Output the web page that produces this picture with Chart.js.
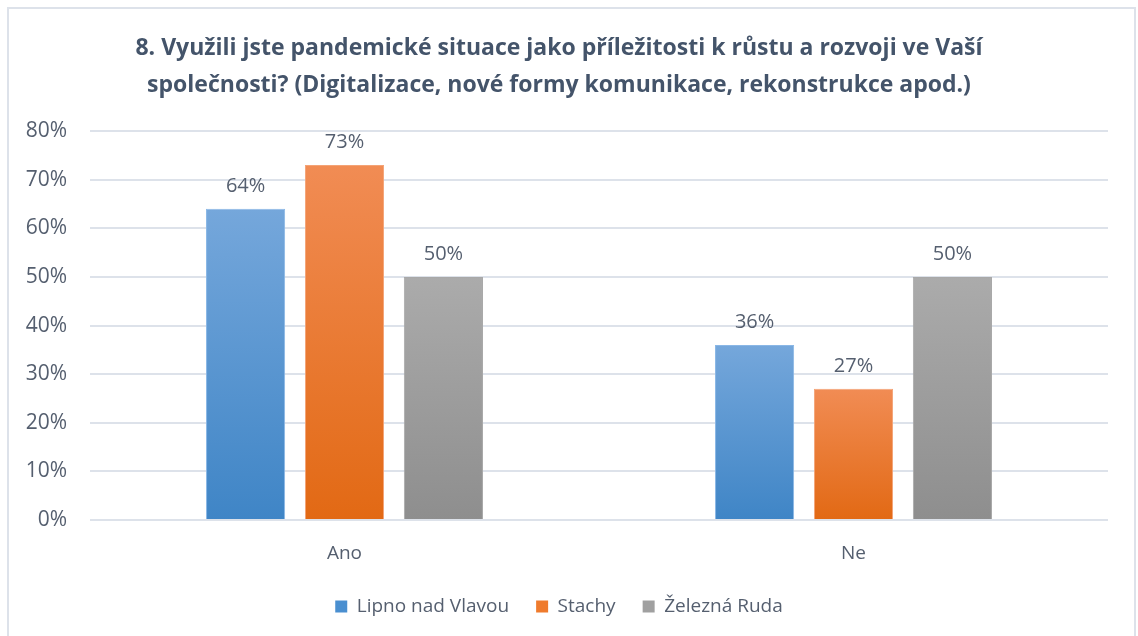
<!DOCTYPE html>
<html>
<head>
<meta charset="utf-8">
<script src="https://cdn.jsdelivr.net/npm/chart.js@4.4.0/dist/chart.umd.min.js"></script>
<style>
  html, body { margin: 0; padding: 0; background: #fff; overflow: hidden; }
  #frame {
    position: absolute; left: 7px; top: 7px; width: 1125px; height: 640px;
    border-left: 2px solid #dde2ea; border-top: 2px solid #dde2ea; border-right: 2px solid #dde2ea;
  }
  #wrap { position: absolute; left: 0; top: 0; width: 1138px; height: 636px; overflow: hidden; }
</style>
</head>
<body>
<div id="frame"></div>
<div id="wrap"><canvas id="chart" width="1138" height="642"></canvas></div>
<script>
const categories = ['Ano', 'Ne'];
const seriesNames = ['Lipno nad Vlavou', 'Stachy', 'Železná Ruda'];
const lipno = [64, 36];
const stachy = [73, 27];
const zeleznaRuda = [50, 50];
const yTicks = [0, 10, 20, 30, 40, 50, 60, 70, 80];

const titleLines = [
    '8. Využili jste pandemické situace jako příležitosti k růstu a rozvoji ve Vaší',
    'společnosti? (Digitalizace, nové formy komunikace, rekonstrukce apod.)'
];

// top / bottom gradient stops and legend colour per series
const palette = [
    { top: '#75a7db', bottom: '#3f85c6', solid: '#4a8fd0', edge: '#8ab7e6' },
    { top: '#f18c54', bottom: '#e26914', solid: '#ef7b2d', edge: '#f4a376' },
    { top: '#ababab', bottom: '#8e8e8e', solid: '#a0a0a0', edge: '#a8a8a8' }
];

const textColor = '#555f6f';
const fontFamily = '"Open Sans", sans-serif';

function barGradient(i) {
    return (context) => {
        const chart = context.chart;
        if (!chart.chartArea || context.raw === undefined) return palette[i].solid;
        const y = chart.scales.y;
        const top = y.getPixelForValue(context.raw);
        const bottom = y.getPixelForValue(0);
        const g = chart.ctx.createLinearGradient(0, top, 0, bottom);
        g.addColorStop(0, palette[i].top);
        g.addColorStop(1, palette[i].bottom);
        return g;
    };
}

const valueLabels = {
    id: 'valueLabels',
    afterDatasetsDraw(chart) {
        const ctx = chart.ctx;
        ctx.save();
        ctx.font = '20px ' + fontFamily;
        ctx.fillStyle = textColor;
        ctx.textAlign = 'center';
        ctx.textBaseline = 'alphabetic';
        chart.data.datasets.forEach((ds, di) => {
            chart.getDatasetMeta(di).data.forEach((bar, i) => {
                ctx.fillText(ds.data[i] + '%', bar.x, bar.y - 17);
            });
        });
        ctx.restore();
    }
};

const seriesData = [lipno, stachy, zeleznaRuda];

new Chart(document.getElementById('chart'), {
    type: 'bar',
    data: {
        labels: categories,
        datasets: seriesNames.map((name, i) => ({
            label: name,
            data: seriesData[i],
            backgroundColor: barGradient(i),
            borderColor: palette[i].edge,
            borderWidth: 1,
            categoryPercentage: 0.583,
            barPercentage: 0.8
        }))
    },
    options: {
        responsive: false,
        animation: false,
        devicePixelRatio: 1,
        layout: { padding: { left: 10, right: 30, top: 30, bottom: 16 } },
        plugins: {
            tooltip: { enabled: false },
            title: {
                display: true,
                text: titleLines,
                color: '#44546a',
                font: { family: fontFamily, size: 23, weight: 'bold', lineHeight: 1.61 },
                padding: { top: 0, bottom: 27 }
            },
            legend: {
                position: 'bottom',
                labels: {
                    color: textColor,
                    font: { family: fontFamily, size: 19 },
                    boxWidth: 12,
                    boxHeight: 12,
                    padding: 27,
                    generateLabels(chart) {
                        return chart.data.datasets.map((ds, i) => ({
                            text: ds.label,
                            fillStyle: palette[i].solid,
                            strokeStyle: palette[i].solid,
                            lineWidth: 0,
                            fontColor: textColor,
                            datasetIndex: i
                        }));
                    }
                }
            }
        },
        scales: {
            x: {
                afterFit(scale) { scale.height = 50; },
                grid: { display: false },
                border: { display: false },
                ticks: { color: textColor, font: { family: fontFamily, size: 19 }, padding: 14 }
            },
            y: {
                min: 0,
                max: 80,
                afterFit(scale) { scale.width = 80; },
                afterBuildTicks(scale) { scale.ticks = yTicks.map(v => ({ value: v })); },
                grid: { color: '#dde2ea', lineWidth: 2, drawTicks: false },
                border: { display: false },
                ticks: {
                    color: textColor,
                    font: { family: fontFamily, size: 21 },
                    padding: 23,
                    callback: v => v + '%'
                }
            }
        }
    },
    plugins: [valueLabels]
});
</script>
</body>
</html>
